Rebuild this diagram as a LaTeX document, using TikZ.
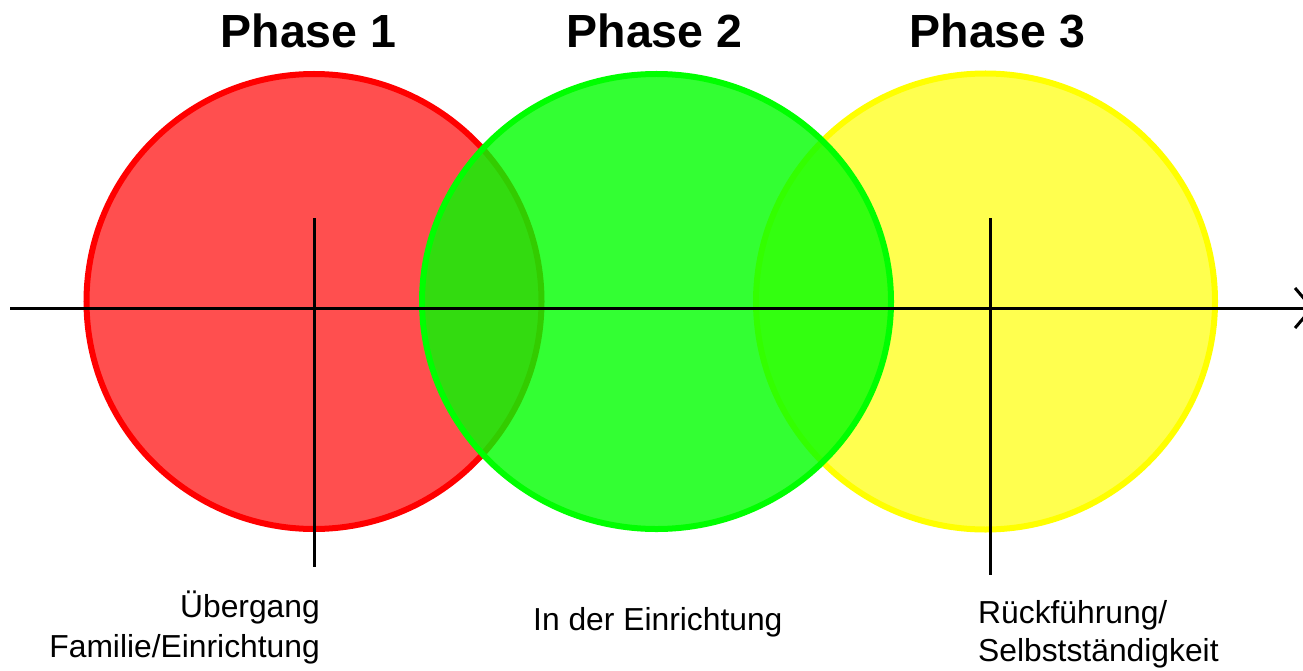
\documentclass[tikz,border=0pt]{standalone}
\usepackage{fontspec}
\setmainfont{Liberation Sans}
\usetikzlibrary{shapes.geometric,arrows.meta}
\definecolor{pred}{RGB}{255,0,0}
\definecolor{pgreen}{RGB}{0,255,0}
\definecolor{pyellow}{RGB}{255,255,0}
\tikzset{
  phasecirc/.style={line width=6bp, inner sep=0pt, outer sep=0pt},
  title/.style={font=\fontsize{46.5bp}{50bp}\selectfont\bfseries, inner sep=0pt, anchor=base},
  lbl/.style={font=\fontsize{31.8bp}{38bp}\selectfont, inner sep=0pt},
  axisline/.style={line width=3bp, black},
}
\begin{document}
\begin{tikzpicture}[x=1bp,y=-1bp]
\useasboundingbox (0,0) rectangle (1303,670);
% circles
\node[phasecirc, circle, minimum size=455bp, draw=pred, fill=pred, fill opacity=0.69] (c1) at (314,301.5) {};
\node[phasecirc, ellipse, minimum width=459bp, minimum height=456bp, draw=pyellow, fill=pyellow, fill opacity=0.69] (c3) at (985.5,301.5) {};
\node[phasecirc, ellipse, minimum width=469bp, minimum height=455bp, draw=pgreen, fill=pgreen, fill opacity=0.8] (c2) at (656.5,301.5) {};
% axis
\coordinate (ax0) at (10,308);
\coordinate (ax1) at (1314,308);
\draw[axisline, -{Straight Barb[length=17bp,width=40bp]}] (ax0) -- (ax1);
% vertical markers
\coordinate (v1t) at (314,218);
\coordinate (v1b) at (314,567);
\coordinate (v3t) at (990,218);
\coordinate (v3b) at (990,575);
\draw[axisline] (v1t) -- (v1b);
\draw[axisline] (v3t) -- (v3b);
% titles
\node[title] (t1) at (308.5,48) {Phase 1};
\node[title] (t2) at (654.5,48) {Phase 2};
\node[title] (t3) at (997.5,48) {Phase 3};
% labels
\node[lbl, anchor=base east] (l1a) at (320,617) {Übergang};
\node[lbl, anchor=base east] (l1b) at (320,657) {Familie/Einrichtung};
\node[lbl, anchor=base west] (l2) at (533,630) {In der Einrichtung};
\node[lbl, anchor=base west] (l3a) at (978,623) {Rückführung/};
\node[lbl, anchor=base west] (l3b) at (978,661) {Selbstständigkeit};
\end{tikzpicture}
\end{document}
